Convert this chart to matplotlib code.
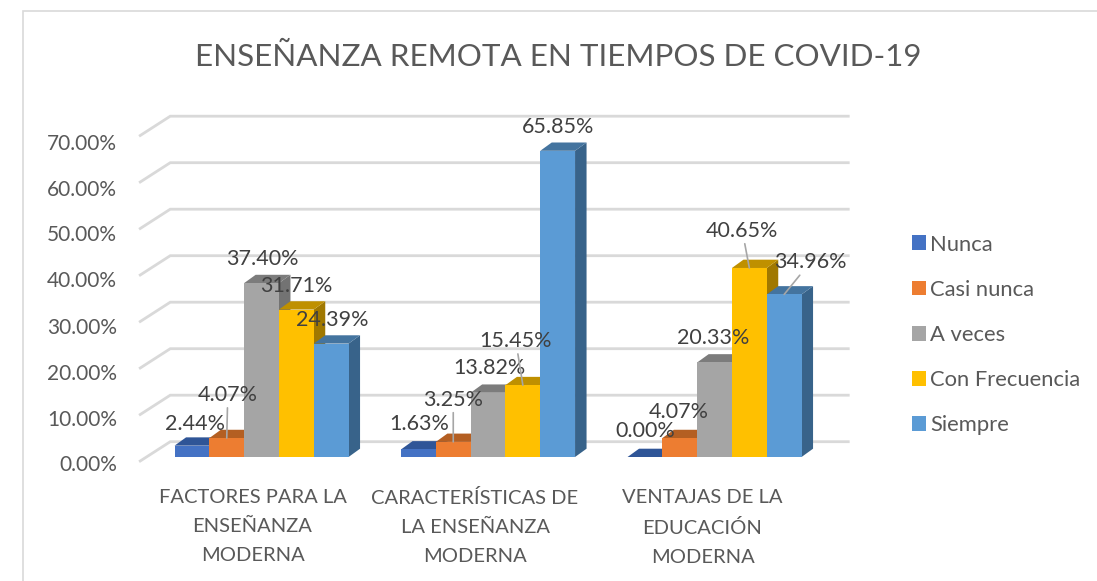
import matplotlib
matplotlib.use("Agg")
import matplotlib.pyplot as plt
from matplotlib.patches import Polygon, Rectangle
from matplotlib.transforms import ScaledTranslation

plt.rcParams['font.family'] = ['Lato', 'DejaVu Sans']

categories = ["FACTORES PARA LA\nENSEÑANZA\nMODERNA",
              "CARACTERÍSTICAS DE\nLA ENSEÑANZA\nMODERNA",
              "VENTAJAS DE LA\nEDUCACIÓN\nMODERNA"]
nunca = [2.44, 1.63, 0.00]
casi_nunca = [4.07, 3.25, 4.07]
a_veces = [37.40, 13.82, 20.33]
con_frecuencia = [31.71, 15.45, 40.65]
siempre = [24.39, 65.85, 34.96]
series_names = ["Nunca", "Casi nunca", "A veces", "Con Frecuencia", "Siempre"]
yticks = [0, 10, 20, 30, 40, 50, 60, 70]

series = [nunca, casi_nunca, a_veces, con_frecuencia, siempre]
front = ["#4472C4", "#ED7D31", "#A5A5A5", "#FFC000", "#5B9BD5"]
top = ["#2F5597", "#B45F22", "#7C7C7C", "#BF9000", "#44749F"]
side = ["#2B4A80", "#9C5020", "#737373", "#A07800", "#38638A"]
text_col = "#595959"
label_col = "#404040"
grid_col = "#D9D9D9"

W, H = 1097, 581
px_x = 226.5       # pixels per category
px_y = 4.65        # pixels per percent
left_px, right_px = 148.3, 827.8
base_px, top_px = 457, 457 - 75 * px_y

fig = plt.figure(figsize=(W / 100, H / 100), dpi=100)
fig.patch.set_facecolor("white")
ax = fig.add_axes([left_px / W, 1 - base_px / H, (right_px - left_px) / W, (base_px - top_px) / H])
ax.set_xlim(-0.5, 2.5)
ax.set_ylim(0, 75)
ax.patch.set_alpha(0)
for s in ax.spines.values():
    s.set_visible(False)

# chart border
fig.add_artist(Rectangle((22.5 / W, -0.01), 1.1, 1 - 11.5 / H + 0.01, transform=fig.transFigure,
                         fill=False, ec="#D9D9D9", lw=1.2))

fig.text(558 / W, 1 - 57 / H, "ENSEÑANZA REMOTA EN TIEMPOS DE COVID-19",
         fontsize=22.6, color=text_col, ha="center", va="center")

# depth of the plot floor and of the bars, in data units
floor_x0 = (140 - 261.3) / px_x
floor_x1 = (170 - 261.3) / px_x
back_x1 = (848 - 261.3) / px_x
floor_y0 = (457 - 461) / px_y
floor_y1 = (457 - 441.7) / px_y
depth_x = 11.5 / px_x
depth_y = 8.3 / px_y
bar_w = 34.8 / px_x

for v in yticks:
    ax.plot([floor_x0, floor_x1, back_x1], [v + floor_y0, v + floor_y1, v + floor_y1],
            color=grid_col, lw=2, clip_on=False, zorder=1, solid_joinstyle="miter")

handles = []
for g in range(3):
    for i in range(5):
        v = series[i][g]
        x0 = g + (i - 2.5) * bar_w
        x1 = x0 + bar_w
        z = 2 + g * 10 + i
        ax.add_patch(Polygon([(x1, 0), (x1 + depth_x, depth_y), (x1 + depth_x, v + depth_y), (x1, v)],
                             fc=side[i], ec="none", zorder=z, clip_on=False))
        ax.add_patch(Polygon([(x0, v), (x1, v), (x1 + depth_x, v + depth_y), (x0 + depth_x, v + depth_y)],
                             fc=top[i], ec="none", zorder=z, clip_on=False))
        b = ax.bar(x0 + bar_w / 2, v, bar_w, color=front[i], zorder=z + 0.5, clip_on=False)
        if g == 0:
            handles.append(b[0])

# label offsets from the top of each bar, pixels, (dx, dy, leader)
label_off = [
    [(3, 22, False), (1, 43, True), (1, 24, False), (0, 24, False), (1, 24, False)],
    [(1, 25, False), (0, 42, True), (1, 25, False), (-7, 44, True), (0, 24, False)],
    [(0, 26, False), (-1, 26, False), (-1, 24, False), (-7, 37, True), (26, 32, True)],
]
for g in range(3):
    for i in range(5):
        v = series[i][g]
        x = g + (i - 2) * bar_w
        dx, dy, leader = label_off[g][i]
        props = dict(arrowstyle="-", color="#A6A6A6", lw=1.2, shrinkA=0, shrinkB=0) if leader else None
        ax.annotate("%.2f%%" % v, xy=(x, v), xytext=(dx, dy), textcoords="offset pixels",
                    ha="center", va="center", fontsize=15.5, color=label_col, zorder=100,
                    arrowprops=props, annotation_clip=False)

ax.set_yticks(yticks)
ax.set_yticklabels(["%.2f%%" % v for v in yticks], fontsize=15, color=text_col)
ax.tick_params(axis="y", length=0, pad=22.5)
for lab, off in zip(ax.get_yticklabels(), [-6, -8, -8, -8, -8, -8, -10, -10]):
    lab.set_transform(lab.get_transform() + ScaledTranslation(0, off / 100, fig.dpi_scale_trans))

ax.set_xticks(range(3))
ax.set_xticklabels(categories, fontsize=14.5, color=text_col, linespacing=1.85)
ax.tick_params(axis="x", length=0, pad=23)
for lab, off in zip(ax.get_xticklabels(), [-9, -13, -12]):
    lab.set_transform(lab.get_transform() + ScaledTranslation(off / 100, 0, fig.dpi_scale_trans))

fig.legend(handles, series_names, loc="center left", bbox_to_anchor=(912 / W, 1 - 335 / H),
           frameon=False, fontsize=15.8, labelcolor=text_col, handlelength=0.65, handleheight=0.65,
           handletextpad=0.17, labelspacing=1.15, borderpad=0, borderaxespad=0)

fig.savefig("out.png", dpi=100)
